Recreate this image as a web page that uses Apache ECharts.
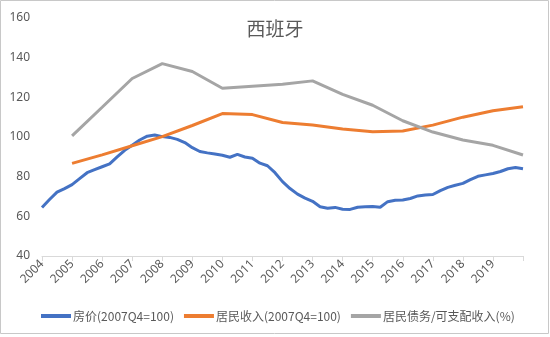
<!DOCTYPE html>
<html><head><meta charset="utf-8">
<script src="https://cdn.jsdelivr.net/npm/echarts@6/dist/echarts.min.js"></script>
<style>html,body{margin:0;padding:0;background:#fff}#c{width:550px;height:337px}</style>
</head><body><div id="c"></div>
<script>
var title = '西班牙';
var seriesNames = ['房价(2007Q4=100)', '居民收入(2007Q4=100)', '居民债务/可支配收入(%)'];
var yearTicks = [2004,2005,2006,2007,2008,2009,2010,2011,2012,2013,2014,2015,2016,2017,2018,2019];
// quarterly house price, 2004.00 .. 2020.00 step 0.25
var priceStart = 2004, priceStep = 0.25;
var housePrice = [64.5,68.5,72.2,74,76,79,82,83.5,85,86.5,90,93.3,95.8,98.5,100.4,101,
  100.2,99.8,98.8,97.2,94.6,92.7,92,91.4,90.8,89.8,91.2,89.9,89.3,86.8,85.5,82,
  77.5,74,71.2,69.2,67.6,64.8,64.1,64.5,63.6,63.5,64.6,64.8,65,64.6,67.4,68.1,
  68.2,69,70.3,70.8,71,73,74.6,75.7,76.6,78.5,80.2,80.9,81.6,82.6,84,84.6,84];
// annual series, 2005 .. 2020
var annualYears = [2005,2006,2007,2008,2009,2010,2011,2012,2013,2014,2015,2016,2017,2018,2019,2020];
var income = [86.7,91,95.6,100.2,105.8,111.8,111.3,107.3,106,104,102.6,103,106,110,113.2,115.3];
var debtRatio = [100.6,115,129.5,137,133,124.6,125.6,126.6,128.3,121.5,116,108.2,102.5,98.5,95.8,90.9];

var pData = housePrice.map(function(v,i){return [priceStart + i*priceStep, v];});
var iData = income.map(function(v,i){return [annualYears[i], v];});
var dData = debtRatio.map(function(v,i){return [annualYears[i], v];});

var chart = echarts.init(document.getElementById('c'), null, {renderer:'canvas'});
var txt = '#595959';
chart.setOption({
  animation:false,
  color:['#4472C4','#ED7D31','#A5A5A5'],
  title:{text:title,left:'center',top:14,textStyle:{fontSize:19,fontWeight:'normal',color:txt,fontFamily:'Noto Sans CJK SC'}},
  graphic:[{type:'rect',shape:{x:0.5,y:0.5,width:548,height:333},style:{fill:null,stroke:'#c8c8c8',lineWidth:1},silent:true}],
  grid:{left:42,right:27,top:18,bottom:81},
  xAxis:{type:'value',min:2004,max:2020,interval:1,
    axisLine:{show:true,lineStyle:{color:'#d9d9d9',width:1}},
    axisTick:{show:true,length:5,lineStyle:{color:'#d9d9d9'}},
    splitLine:{show:false},
    axisLabel:{rotate:45,margin:6,color:txt,fontSize:12,fontFamily:'Noto Sans',
      formatter:function(v){return yearTicks.indexOf(v)>=0?String(v):'';}}},
  yAxis:{type:'value',min:40,max:160,interval:20,
    axisLine:{show:false},axisTick:{show:false},splitLine:{show:false},
    axisLabel:{color:txt,fontSize:12,margin:12,fontFamily:'Noto Sans'}},
  legend:{bottom:10,left:36,icon:'rect',itemWidth:30,itemHeight:4,itemGap:10,
    textStyle:{color:txt,fontSize:12,fontFamily:'Noto Sans CJK SC',padding:[0,0,0,-3]},
    data:seriesNames},
  series:[
    {name:seriesNames[0],type:'line',data:pData,showSymbol:false,symbol:'none',lineStyle:{width:3}},
    {name:seriesNames[1],type:'line',data:iData,showSymbol:false,symbol:'none',lineStyle:{width:3}},
    {name:seriesNames[2],type:'line',data:dData,showSymbol:false,symbol:'none',lineStyle:{width:3}}
  ]
});
</script></body></html>
